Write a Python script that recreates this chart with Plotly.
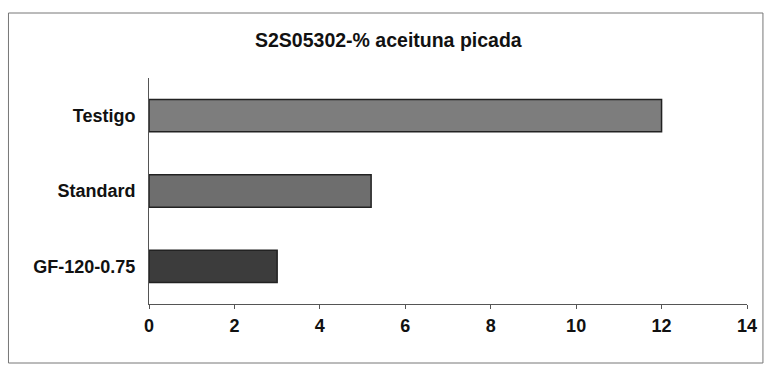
import plotly.graph_objects as go

categories = ["Testigo", "Standard", "GF-120-0.75"]
values = [12.0, 5.2, 3.0]
colors = ["#7d7d7d", "#6e6e6e", "#3c3c3c"]
tick_vals = [0, 2, 4, 6, 8, 10, 12, 14]

W, H = 769, 366
L, R, T, B = 149, 20, 78, 62

fig = go.Figure(go.Bar(
    x=values, y=categories, orientation="h",
    marker=dict(color=colors, line=dict(color="#222222", width=1.5)),
))

font = "Liberation Sans, Arial, sans-serif"
pw, ph = W - L - R, H - T - B
def px2paper_x(px): return (px - L) / pw
def px2paper_y(py): return (H - B - py) / ph

fig.update_layout(
    width=W, height=H,
    margin=dict(l=L, r=R, t=T, b=B),
    paper_bgcolor="white", plot_bgcolor="white",
    showlegend=False, bargap=0.57,
    title=dict(text="S2S05302-% aceituna picada", x=0.505, xanchor="center",
               y=1 - 40 / H, yanchor="middle",
               font=dict(family=font, size=19.5, weight="bold", color="#111111")),
    font=dict(family=font, color="#111111"),
    xaxis=dict(range=[0, 14], tickvals=tick_vals, showgrid=False, zeroline=False,
               showline=True, linecolor="#555555", linewidth=1,
               ticks="outside", ticklen=4, tickcolor="#555555",
               ticklabelstandoff=1,
               tickfont=dict(family=font, size=18, weight="bold", color="#111111")),
    yaxis=dict(autorange="reversed", showgrid=False, zeroline=False,
               showline=True, linecolor="#555555", linewidth=1,
               ticks="", ticklabelstandoff=9,
               tickfont=dict(family=font, size=18, weight="bold", color="#111111")),
    shapes=[dict(type="rect", xref="paper", yref="paper",
                 x0=px2paper_x(8), x1=px2paper_x(765),
                 y0=px2paper_y(363), y1=px2paper_y(13),
                 line=dict(color="#777777", width=1))],
)

fig.write_html("out.html", config={"displayModeBar": False},
               post_script="document.body.style.margin='0';document.body.style.overflow='hidden';")
